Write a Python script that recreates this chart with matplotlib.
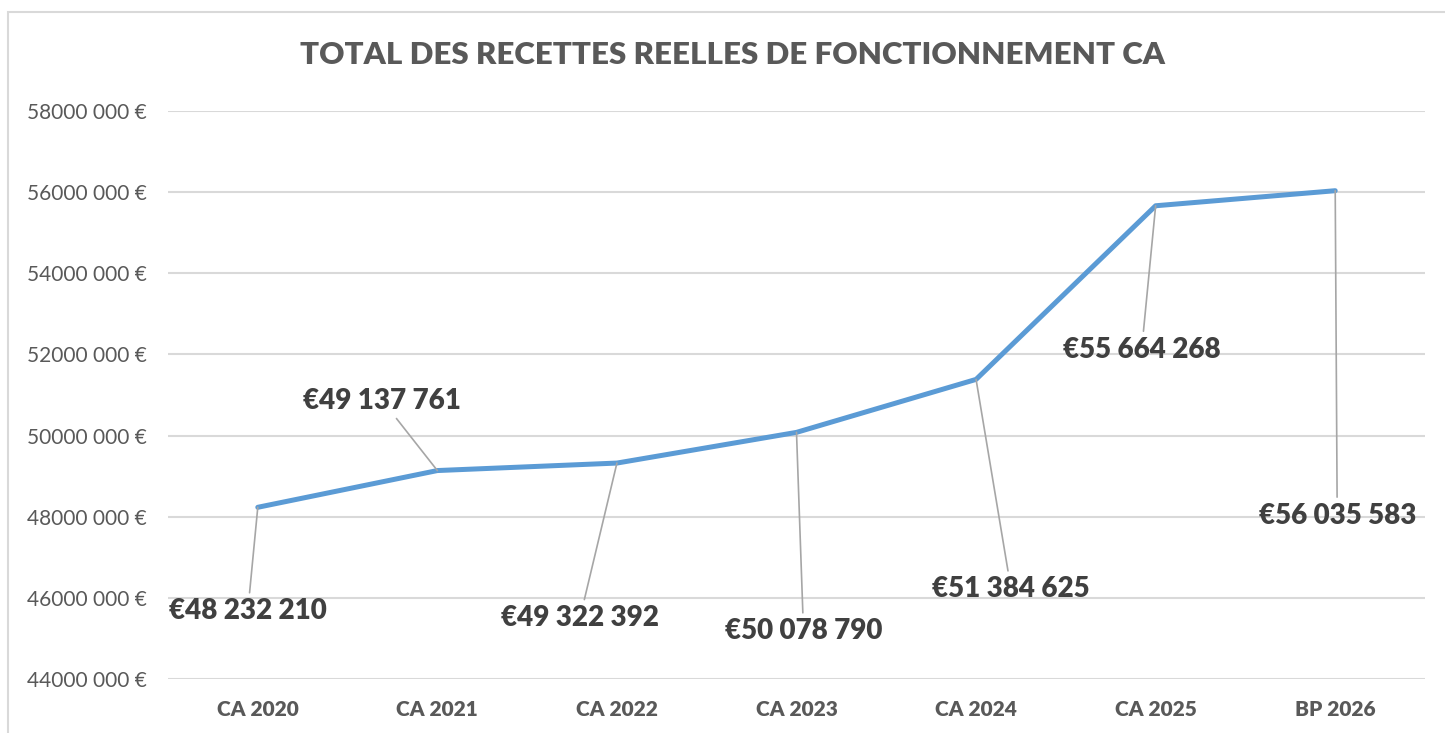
import matplotlib
matplotlib.use("Agg")
import matplotlib.pyplot as plt
from matplotlib.patches import Rectangle

categories = ["CA 2020", "CA 2021", "CA 2022", "CA 2023", "CA 2024", "CA 2025", "BP 2026"]
recettes = [48232210, 49137761, 49322392, 50078790, 51384625, 55664268, 56035583]
y_ticks = [44000000, 46000000, 48000000, 50000000, 52000000, 54000000, 56000000, 58000000]

# label offsets from each point, in pixels
label_offsets = [(-10, -104), (-55, 70), (-37, -155), (7, -199), (35, -210), (-14, -144), (2, -325)]

TXT = "#595959"
LBL = "#404040"
plt.rcParams["font.family"] = ["Lato", "DejaVu Sans"]


def fmt_label(v):
    s = f"{v:,}".replace(",", " ")
    return "€" + s


def fmt_tick(v):
    s = f"{v:,}".replace(",", " ")
    # Excel format shows "58000 000 €"
    parts = s.split(" ")
    return parts[0] + parts[1] + " " + parts[2] + " €"


fig = plt.figure(figsize=(14.45, 7.33), dpi=100)
ax = fig.add_axes([168 / 1445, 1 - 679 / 733, (1425 - 168) / 1445, (679 - 111) / 733])

x = list(range(len(categories)))
ax.plot(x, recettes, color="#5B9BD5", lw=3.6, solid_capstyle="round", solid_joinstyle="round", zorder=3)

ax.set_xlim(-0.5, len(categories) - 0.5)
ax.set_ylim(y_ticks[0], y_ticks[-1])
ax.set_yticks(y_ticks)
ax.set_yticklabels([fmt_tick(v) for v in y_ticks], fontsize=15, color=TXT)
ax.set_xticks(x)
ax.set_xticklabels(categories, fontsize=15, color=TXT, fontweight="heavy")
ax.tick_params(axis="both", length=0)
ax.tick_params(axis="y", pad=15)
ax.tick_params(axis="x", pad=15)
ax.grid(axis="y", color="#D9D9D9", lw=1.5, zorder=0)
for sp in ax.spines.values():
    sp.set_visible(False)

for xi, v, off in zip(x, recettes, label_offsets):
    ax.annotate(fmt_label(v), xy=(xi, v), xytext=off, textcoords="offset pixels",
                ha="center", va="center", fontsize=20, fontweight="heavy", color=LBL,
                arrowprops=dict(arrowstyle="-", color="#A6A6A6", lw=1.2, shrinkA=2, shrinkB=0),
                zorder=4)

fig.text(732 / 1445, 1 - 55 / 733, "TOTAL DES RECETTES REELLES DE FONCTIONNEMENT CA",
         ha="center", va="center", fontsize=22.5, fontweight="heavy", color=TXT)

fig.patches.append(Rectangle((8 / 1445, -0.1), 1.5, 1.1 - 12 / 733, transform=fig.transFigure,
                             fill=False, edgecolor="#D9D9D9", lw=1.5))

fig.savefig("out.png", dpi=100, facecolor="white")
